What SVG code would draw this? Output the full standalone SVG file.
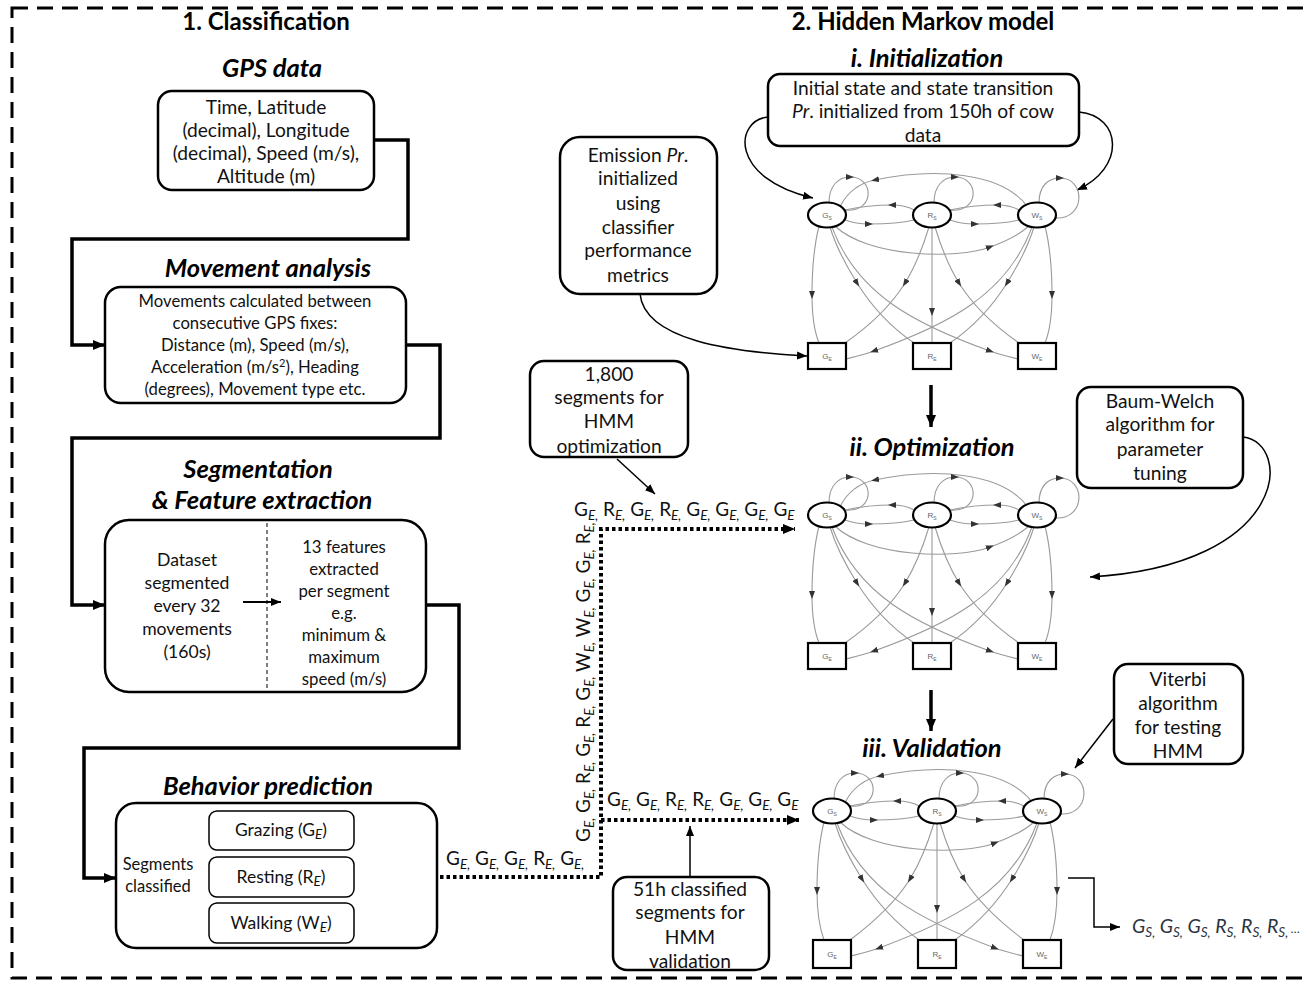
<svg xmlns="http://www.w3.org/2000/svg" width="1304" height="982" viewBox="0 0 1304 982">
<style>
.t{font-family:Lato,"Liberation Sans",sans-serif;font-size:19.2px;fill:#111;text-anchor:middle}
.h{font-family:Lato,"Liberation Sans",sans-serif;font-weight:bold;font-style:italic;font-size:25.5px;fill:#000;text-anchor:middle}
.hb{font-family:Lato,"Liberation Sans",sans-serif;font-weight:bold;font-size:24px;fill:#000;text-anchor:middle}
.seq{font-family:Lato,"Liberation Sans",sans-serif;font-size:19px;fill:#111}
.sb{font-size:13.5px;font-style:italic}
.box{fill:#fff;stroke:#000;stroke-width:2.5}
.flow{fill:none;stroke:#000;stroke-width:3.5}
.thin{fill:none;stroke:#000;stroke-width:1.5}
.dot{fill:none;stroke:#000;stroke-width:4;stroke-dasharray:3.5 3}
.edge{fill:none;stroke:#9a9a9a;stroke-width:1.1;marker-mid:url(#am)}
.st{fill:#fff;stroke:#000;stroke-width:2.2}
.sl{font-family:"Liberation Sans",sans-serif;font-size:8px;fill:#666;text-anchor:middle}
.ss{font-size:5px}
.mv{font-size:16.7px}
.sg1{font-size:17.6px}
.sg2{font-size:16.8px}
.bh{font-size:17.5px}
.cl{font-size:16.5px}
</style>
<defs>
<marker id="ab" markerUnits="userSpaceOnUse" viewBox="0 0 12 10" markerWidth="12" markerHeight="10" refX="12" refY="5" orient="auto"><path d="M0,0 L12,5 L0,10 z" fill="#000"/></marker>
<marker id="as" markerUnits="userSpaceOnUse" viewBox="0 0 10 8" markerWidth="10" markerHeight="8" refX="10" refY="4" orient="auto"><path d="M0,0 L10,4 L0,8 z" fill="#000"/></marker>
<marker id="am" markerUnits="userSpaceOnUse" viewBox="0 0 8 6" markerWidth="8" markerHeight="6" refX="4" refY="3" orient="auto"><path d="M0,0 L8,3 L0,6 z" fill="#333"/></marker>
</defs>
<rect x="12" y="8" width="1310" height="970" fill="none" stroke="#000" stroke-width="3" stroke-dasharray="16 9"/>

<text class="hb" x="266" y="30">1. Classification</text>
<text class="hb" x="923" y="30">2. Hidden Markov model</text>

<!-- connectors -->
<g id="connectors">
<path class="flow" d="M374,140 L408,140 L408,239 L72,239 L72,345 L105,345" marker-end="url(#ab)"/>
<path class="flow" d="M406,345 L440,345 L440,438 L72,438 L72,605 L105,605" marker-end="url(#ab)"/>
<path class="flow" d="M426,605 L459,605 L459,748 L84,748 L84,878 L116,878" marker-end="url(#ab)"/>
<path class="thin" d="M354,831 C400,831 392,877 438,877"/>
<path class="thin" d="M354,922 C400,922 392,877 438,877"/>
<path class="thin" d="M354,877 L438,877" marker-end="url(#ab)"/>
<path class="dot" d="M440,877 L601,877 L601,529 L795,529" marker-end="url(#ab)"/>
<path class="dot" d="M601,820 L799,820" marker-end="url(#ab)"/>
<path class="thin" d="M617,459 L655,494" marker-end="url(#as)"/>
<path class="thin" d="M690,877 L690,826" marker-end="url(#as)"/>
<path class="thin" d="M768,117 C735,120 728,178 813,198" marker-end="url(#as)"/>
<path class="thin" d="M1079,112 C1122,116 1126,168 1077,190" marker-end="url(#as)"/>
<path class="thin" d="M640,294 C645,340 730,352 807,356" marker-end="url(#as)"/>
<path class="flow" d="M931,385 L931,427" marker-end="url(#ab)"/>
<path class="flow" d="M931,690 L931,731" marker-end="url(#ab)"/>
<path class="thin" d="M1243,437 C1292,442 1292,565 1090,577" marker-end="url(#as)"/>
<path class="thin" d="M1113,719 L1075,768" marker-end="url(#as)"/>
<path class="thin" d="M1068,878 L1094,878 L1094,927 L1120,927" marker-end="url(#as)"/>
</g>

<!-- sequence texts -->
<text class="seq" x="446" y="865">G<tspan class="sb" dy="4">E,</tspan><tspan dy="-4"> G</tspan><tspan class="sb" dy="4">E,</tspan><tspan dy="-4"> G</tspan><tspan class="sb" dy="4">E,</tspan><tspan dy="-4"> R</tspan><tspan class="sb" dy="4">E,</tspan><tspan dy="-4"> G</tspan><tspan class="sb" dy="4">E,</tspan></text>
<text class="seq" transform="translate(590,842) rotate(-90)" x="0" y="0">G<tspan class="sb" dy="4">E,</tspan><tspan dy="-4"> G</tspan><tspan class="sb" dy="4">E,</tspan><tspan dy="-4"> R</tspan><tspan class="sb" dy="4">E,</tspan><tspan dy="-4"> G</tspan><tspan class="sb" dy="4">E,</tspan><tspan dy="-4"> R</tspan><tspan class="sb" dy="4">E,</tspan><tspan dy="-4"> G</tspan><tspan class="sb" dy="4">E,</tspan><tspan dy="-4"> W</tspan><tspan class="sb" dy="4">E,</tspan><tspan dy="-4"> W</tspan><tspan class="sb" dy="4">E,</tspan><tspan dy="-4"> G</tspan><tspan class="sb" dy="4">E,</tspan><tspan dy="-4"> G</tspan><tspan class="sb" dy="4">E,</tspan><tspan dy="-4"> R</tspan><tspan class="sb" dy="4">E,</tspan></text>
<text class="seq" x="574" y="516">G<tspan class="sb" dy="4">E,</tspan><tspan dy="-4"> R</tspan><tspan class="sb" dy="4">E,</tspan><tspan dy="-4"> G</tspan><tspan class="sb" dy="4">E,</tspan><tspan dy="-4"> R</tspan><tspan class="sb" dy="4">E,</tspan><tspan dy="-4"> G</tspan><tspan class="sb" dy="4">E,</tspan><tspan dy="-4"> G</tspan><tspan class="sb" dy="4">E,</tspan><tspan dy="-4"> G</tspan><tspan class="sb" dy="4">E,</tspan><tspan dy="-4"> G</tspan><tspan class="sb" dy="4">E</tspan></text>
<text class="seq" x="607" y="806">G<tspan class="sb" dy="4">E,</tspan><tspan dy="-4"> G</tspan><tspan class="sb" dy="4">E,</tspan><tspan dy="-4"> R</tspan><tspan class="sb" dy="4">E,</tspan><tspan dy="-4"> R</tspan><tspan class="sb" dy="4">E,</tspan><tspan dy="-4"> G</tspan><tspan class="sb" dy="4">E,</tspan><tspan dy="-4"> G</tspan><tspan class="sb" dy="4">E,</tspan><tspan dy="-4"> G</tspan><tspan class="sb" dy="4">E</tspan></text>
<text class="seq" x="1132" y="933" style="font-style:italic;font-size:19.5px;fill:#2b3440">G<tspan class="sb" dy="4">S,</tspan><tspan dy="-4"> G</tspan><tspan class="sb" dy="4">S,</tspan><tspan dy="-4"> G</tspan><tspan class="sb" dy="4">S,</tspan><tspan dy="-4"> R</tspan><tspan class="sb" dy="4">S,</tspan><tspan dy="-4"> R</tspan><tspan class="sb" dy="4">S,</tspan><tspan dy="-4"> R</tspan><tspan class="sb" dy="4">S,</tspan><tspan dy="-4" style="font-size:12px"> …</tspan></text>

<!-- left column -->
<text class="h" x="272" y="77">GPS data</text>
<g id="gps">
<rect class="box" x="158" y="91" width="216" height="99" rx="14"/>
<text class="t" x="266" y="114">Time, Latitude</text>
<text class="t" x="266" y="137">(decimal), Longitude</text>
<text class="t" x="266" y="160">(decimal), Speed  (m/s),</text>
<text class="t" x="266" y="183">Altitude (m)</text>
</g>
<text class="h" x="268" y="277">Movement analysis</text>
<g id="movement">
<rect class="box" x="105" y="287" width="301" height="116" rx="16"/>
<text class="t mv" x="255" y="307">Movements  calculated between</text>
<text class="t mv" x="255" y="329">consecutive GPS fixes:</text>
<text class="t mv" x="255" y="351">Distance (m), Speed  (m/s),</text>
<text class="t mv" x="255" y="373">Acceleration (m/s<tspan style="font-size:11px" dy="-6">2</tspan><tspan dy="6">), Heading</tspan></text>
<text class="t mv" x="255" y="395">(degrees), Movement  type etc.</text>
</g>
<text class="h" x="258" y="478">Segmentation</text>
<text class="h" x="262" y="509">&amp; Feature extraction</text>
<g id="segmentation">
<rect class="box" x="105" y="520" width="321" height="172" rx="24"/>
<line x1="267" y1="523" x2="267" y2="690" stroke="#000" stroke-width="1" stroke-dasharray="4 3"/>
<text class="t sg1" x="187" y="566">Dataset</text>
<text class="t sg1" x="187" y="589">segmented</text>
<text class="t sg1" x="187" y="612">every 32</text>
<text class="t sg1" x="187" y="635">movements</text>
<text class="t sg1" x="187" y="658">(160s)</text>
<path d="M243,602 L281,602" stroke="#000" stroke-width="2" fill="none" marker-end="url(#as)"/>
<text class="t sg2" x="344" y="553">13 features</text>
<text class="t sg2" x="344" y="575">extracted</text>
<text class="t sg2" x="344" y="597">per segment</text>
<text class="t sg2" x="344" y="619">e.g.</text>
<text class="t sg2" x="344" y="641">minimum &amp;</text>
<text class="t sg2" x="344" y="663">maximum</text>
<text class="t sg2" x="344" y="685">speed (m/s)</text>
</g>
<text class="h" x="268" y="795">Behavior prediction</text>
<g id="behavior">
<rect class="box" x="116" y="803" width="321" height="145" rx="20"/>
<text class="t cl" x="158" y="870">Segments</text>
<text class="t cl" x="158" y="892">classified</text>
</g>
<g id="grazing">
<rect x="209" y="811" width="145" height="39" rx="8" fill="#fff" stroke="#000" stroke-width="1.5"/>
<text class="t bh" x="281" y="836">Grazing (G<tspan class="sb" dy="3">E</tspan><tspan dy="-3">)</tspan></text>
</g>
<g id="resting">
<rect x="209" y="857" width="145" height="40" rx="8" fill="#fff" stroke="#000" stroke-width="1.5"/>
<text class="t bh" x="281" y="883">Resting (R<tspan class="sb" dy="3">E</tspan><tspan dy="-3">)</tspan></text>
</g>
<g id="walking">
<rect x="209" y="903" width="145" height="40" rx="8" fill="#fff" stroke="#000" stroke-width="1.5"/>
<text class="t bh" x="281" y="929">Walking (W<tspan class="sb" dy="3">E</tspan><tspan dy="-3">)</tspan></text>
</g>

<g id="seg1800">
<rect class="box" x="530" y="361" width="158" height="96" rx="14"/>
<text class="t" x="609" y="381">1,800</text>
<text class="t" x="609" y="404">segments for</text>
<text class="t" x="609" y="428">HMM</text>
<text class="t" x="609" y="453">optimization</text>
</g>
<g id="seg51h">
<rect class="box" x="613" y="877" width="156" height="93" rx="14"/>
<text class="t" x="690" y="896">51h classified</text>
<text class="t" x="690" y="919">segments for</text>
<text class="t" x="690" y="944">HMM</text>
<text class="t" x="690" y="968">validation</text>
</g>

<!-- right column -->
<text class="h" x="927" y="67">i. Initialization</text>
<g id="init-box">
<rect class="box" x="768" y="74" width="311" height="72" rx="12"/>
<text class="t" x="923" y="95">Initial state and state transition</text>
<text class="t" x="923" y="118"><tspan font-style="italic">Pr</tspan>. initialized from 150h of cow</text>
<text class="t" x="923" y="142">data</text>
</g>
<g id="emission">
<rect class="box" x="560" y="137" width="157" height="157" rx="20"/>
<text class="t" x="638" y="162">Emission <tspan font-style="italic">Pr</tspan>.</text>
<text class="t" x="638" y="185">initialized</text>
<text class="t" x="638" y="210">using</text>
<text class="t" x="638" y="234">classifier</text>
<text class="t" x="638" y="257">performance</text>
<text class="t" x="638" y="282">metrics</text>
</g>
<text class="h" x="932" y="456">ii. Optimization</text>
<g id="baum-welch">
<rect class="box" x="1077" y="387" width="166" height="101" rx="14"/>
<text class="t" x="1160" y="408">Baum-Welch</text>
<text class="t" x="1160" y="431">algorithm for</text>
<text class="t" x="1160" y="456">parameter</text>
<text class="t" x="1160" y="480">tuning</text>
</g>
<text class="h" x="932" y="757">iii. Validation</text>
<g id="viterbi">
<rect class="box" x="1114" y="664" width="129" height="100" rx="14"/>
<text class="t" x="1178" y="686">Viterbi</text>
<text class="t" x="1178" y="710">algorithm</text>
<text class="t" x="1178" y="734">for testing</text>
<text class="t" x="1178" y="758">HMM</text>
</g>

<!-- HMM graph 1 -->
<g id="hmm-init" transform="translate(827,215)">
<g id="hmm-init-edges">
<path class="edge" d="M8,11 C40,42 130,45 163,32 C180,26 193,19 202,11"/>
<path class="edge" d="M200,-9 C175,-42 110,-48 48,-35 C32,-32 20,-22 14,-10"/>
<path class="edge" d="M87,-5 C80,-9 72,-10 65,-10 C50,-10 32,-8 18,-5"/>
<path class="edge" d="M18,5 C26,8 34,9 42,9 C58,9 75,8 87,5"/>
<path class="edge" d="M192,-5 C185,-9 177,-10 170,-10 C155,-10 137,-8 123,-5"/>
<path class="edge" d="M123,5 C131,8 140,9 148,9 C163,9 180,8 192,5"/>
<path class="edge" d="M2,-12 C2,-30 12,-38 23,-38 C48,-38 48,-2 18,-5"/>
<path class="edge" d="M107,-12 C107,-30 117,-38 128,-38 C153,-38 153,-2 123,-5"/>
<path class="edge" d="M212,-12 C212,-30 222,-37 233,-37 C259,-37 259,5 228,3"/>
<path class="edge" d="M-8,11 C-14,35 -15,58 -15,80 C-15,100 -12,118 -8,128"/>
<path class="edge" d="M3,12 C10,35 20,52 30,68 C45,92 65,113 87,128"/>
<path class="edge" d="M5,12 C30,80 90,110 163,136 C174,140 183,142 191,144"/>
<path class="edge" d="M102,12 C95,35 88,52 78,68 C62,94 38,114 18,128"/>
<path class="edge" d="M105,12 L105,97 L105,128"/>
<path class="edge" d="M108,12 C115,35 122,52 132,68 C148,94 172,114 192,128"/>
<path class="edge" d="M205,12 C180,80 120,110 47,136 C36,140 27,142 19,144"/>
<path class="edge" d="M207,12 C200,35 190,52 180,68 C165,92 145,113 123,128"/>
<path class="edge" d="M218,11 C224,35 225,58 225,80 C225,100 222,118 218,128"/>
</g>
<g id="hmm-init-GS"><ellipse class="st" cx="0" cy="0" rx="19" ry="12.5"/><text class="sl" x="0" y="3">G<tspan class="ss" dy="1.5">S</tspan></text></g>
<g id="hmm-init-RS"><ellipse class="st" cx="105" cy="0" rx="19" ry="12.5"/><text class="sl" x="105" y="3">R<tspan class="ss" dy="1.5">S</tspan></text></g>
<g id="hmm-init-WS"><ellipse class="st" cx="210" cy="0" rx="19" ry="12.5"/><text class="sl" x="210" y="3">W<tspan class="ss" dy="1.5">S</tspan></text></g>
<g id="hmm-init-GE"><rect class="st" x="-19" y="128" width="38" height="26"/><text class="sl" x="0" y="144">G<tspan class="ss" dy="1.5">E</tspan></text></g>
<g id="hmm-init-RE"><rect class="st" x="86" y="128" width="38" height="26"/><text class="sl" x="105" y="144">R<tspan class="ss" dy="1.5">E</tspan></text></g>
<g id="hmm-init-WE"><rect class="st" x="191" y="128" width="38" height="26"/><text class="sl" x="210" y="144">W<tspan class="ss" dy="1.5">E</tspan></text></g>
</g>

<!-- HMM graph 2 -->
<g id="hmm-opt" transform="translate(827,515)">
<g id="hmm-opt-edges">
<path class="edge" d="M8,11 C40,42 130,45 163,32 C180,26 193,19 202,11"/>
<path class="edge" d="M200,-9 C175,-42 110,-48 48,-35 C32,-32 20,-22 14,-10"/>
<path class="edge" d="M87,-5 C80,-9 72,-10 65,-10 C50,-10 32,-8 18,-5"/>
<path class="edge" d="M18,5 C26,8 34,9 42,9 C58,9 75,8 87,5"/>
<path class="edge" d="M192,-5 C185,-9 177,-10 170,-10 C155,-10 137,-8 123,-5"/>
<path class="edge" d="M123,5 C131,8 140,9 148,9 C163,9 180,8 192,5"/>
<path class="edge" d="M2,-12 C2,-30 12,-38 23,-38 C48,-38 48,-2 18,-5"/>
<path class="edge" d="M107,-12 C107,-30 117,-38 128,-38 C153,-38 153,-2 123,-5"/>
<path class="edge" d="M212,-12 C212,-30 222,-37 233,-37 C259,-37 259,5 228,3"/>
<path class="edge" d="M-8,11 C-14,35 -15,58 -15,80 C-15,100 -12,118 -8,128"/>
<path class="edge" d="M3,12 C10,35 20,52 30,68 C45,92 65,113 87,128"/>
<path class="edge" d="M5,12 C30,80 90,110 163,136 C174,140 183,142 191,144"/>
<path class="edge" d="M102,12 C95,35 88,52 78,68 C62,94 38,114 18,128"/>
<path class="edge" d="M105,12 L105,97 L105,128"/>
<path class="edge" d="M108,12 C115,35 122,52 132,68 C148,94 172,114 192,128"/>
<path class="edge" d="M205,12 C180,80 120,110 47,136 C36,140 27,142 19,144"/>
<path class="edge" d="M207,12 C200,35 190,52 180,68 C165,92 145,113 123,128"/>
<path class="edge" d="M218,11 C224,35 225,58 225,80 C225,100 222,118 218,128"/>
</g>
<g id="hmm-opt-GS"><ellipse class="st" cx="0" cy="0" rx="19" ry="12.5"/><text class="sl" x="0" y="3">G<tspan class="ss" dy="1.5">S</tspan></text></g>
<g id="hmm-opt-RS"><ellipse class="st" cx="105" cy="0" rx="19" ry="12.5"/><text class="sl" x="105" y="3">R<tspan class="ss" dy="1.5">S</tspan></text></g>
<g id="hmm-opt-WS"><ellipse class="st" cx="210" cy="0" rx="19" ry="12.5"/><text class="sl" x="210" y="3">W<tspan class="ss" dy="1.5">S</tspan></text></g>
<g id="hmm-opt-GE"><rect class="st" x="-19" y="128" width="38" height="26"/><text class="sl" x="0" y="144">G<tspan class="ss" dy="1.5">E</tspan></text></g>
<g id="hmm-opt-RE"><rect class="st" x="86" y="128" width="38" height="26"/><text class="sl" x="105" y="144">R<tspan class="ss" dy="1.5">E</tspan></text></g>
<g id="hmm-opt-WE"><rect class="st" x="191" y="128" width="38" height="26"/><text class="sl" x="210" y="144">W<tspan class="ss" dy="1.5">E</tspan></text></g>
</g>

<!-- HMM graph 3 -->
<g id="hmm-val" transform="translate(832,811)">
<g id="hmm-val-edges">
<path class="edge" d="M8,11 C40,42 130,45 163,32 C180,26 193,19 202,11"/>
<path class="edge" d="M200,-9 C175,-42 110,-48 48,-35 C32,-32 20,-22 14,-10"/>
<path class="edge" d="M87,-5 C80,-9 72,-10 65,-10 C50,-10 32,-8 18,-5"/>
<path class="edge" d="M18,5 C26,8 34,9 42,9 C58,9 75,8 87,5"/>
<path class="edge" d="M192,-5 C185,-9 177,-10 170,-10 C155,-10 137,-8 123,-5"/>
<path class="edge" d="M123,5 C131,8 140,9 148,9 C163,9 180,8 192,5"/>
<path class="edge" d="M2,-12 C2,-30 12,-38 23,-38 C48,-38 48,-2 18,-5"/>
<path class="edge" d="M107,-12 C107,-30 117,-38 128,-38 C153,-38 153,-2 123,-5"/>
<path class="edge" d="M212,-12 C212,-30 222,-37 233,-37 C259,-37 259,5 228,3"/>
<path class="edge" d="M-8,11 C-14,35 -15,58 -15,80 C-15,100 -12,118 -8,129"/>
<path class="edge" d="M3,12 C10,35 20,52 30,68 C45,92 65,113 87,129"/>
<path class="edge" d="M5,12 C30,80 90,110 163,137 C174,141 183,143 191,145"/>
<path class="edge" d="M102,12 C95,35 88,52 78,68 C62,94 38,114 18,129"/>
<path class="edge" d="M105,12 L105,98 L105,129"/>
<path class="edge" d="M108,12 C115,35 122,52 132,68 C148,94 172,114 192,129"/>
<path class="edge" d="M205,12 C180,80 120,110 47,137 C36,141 27,143 19,145"/>
<path class="edge" d="M207,12 C200,35 190,52 180,68 C165,92 145,113 123,129"/>
<path class="edge" d="M218,11 C224,35 225,58 225,80 C225,100 222,118 218,129"/>
</g>
<g id="hmm-val-GS"><ellipse class="st" cx="0" cy="0" rx="19" ry="12.5"/><text class="sl" x="0" y="3">G<tspan class="ss" dy="1.5">S</tspan></text></g>
<g id="hmm-val-RS"><ellipse class="st" cx="105" cy="0" rx="19" ry="12.5"/><text class="sl" x="105" y="3">R<tspan class="ss" dy="1.5">S</tspan></text></g>
<g id="hmm-val-WS"><ellipse class="st" cx="210" cy="0" rx="19" ry="12.5"/><text class="sl" x="210" y="3">W<tspan class="ss" dy="1.5">S</tspan></text></g>
<g id="hmm-val-GE"><rect class="st" x="-19" y="129" width="38" height="28"/><text class="sl" x="0" y="146">G<tspan class="ss" dy="1.5">E</tspan></text></g>
<g id="hmm-val-RE"><rect class="st" x="86" y="129" width="38" height="28"/><text class="sl" x="105" y="146">R<tspan class="ss" dy="1.5">E</tspan></text></g>
<g id="hmm-val-WE"><rect class="st" x="191" y="129" width="38" height="28"/><text class="sl" x="210" y="146">W<tspan class="ss" dy="1.5">E</tspan></text></g>
</g>
</svg>
